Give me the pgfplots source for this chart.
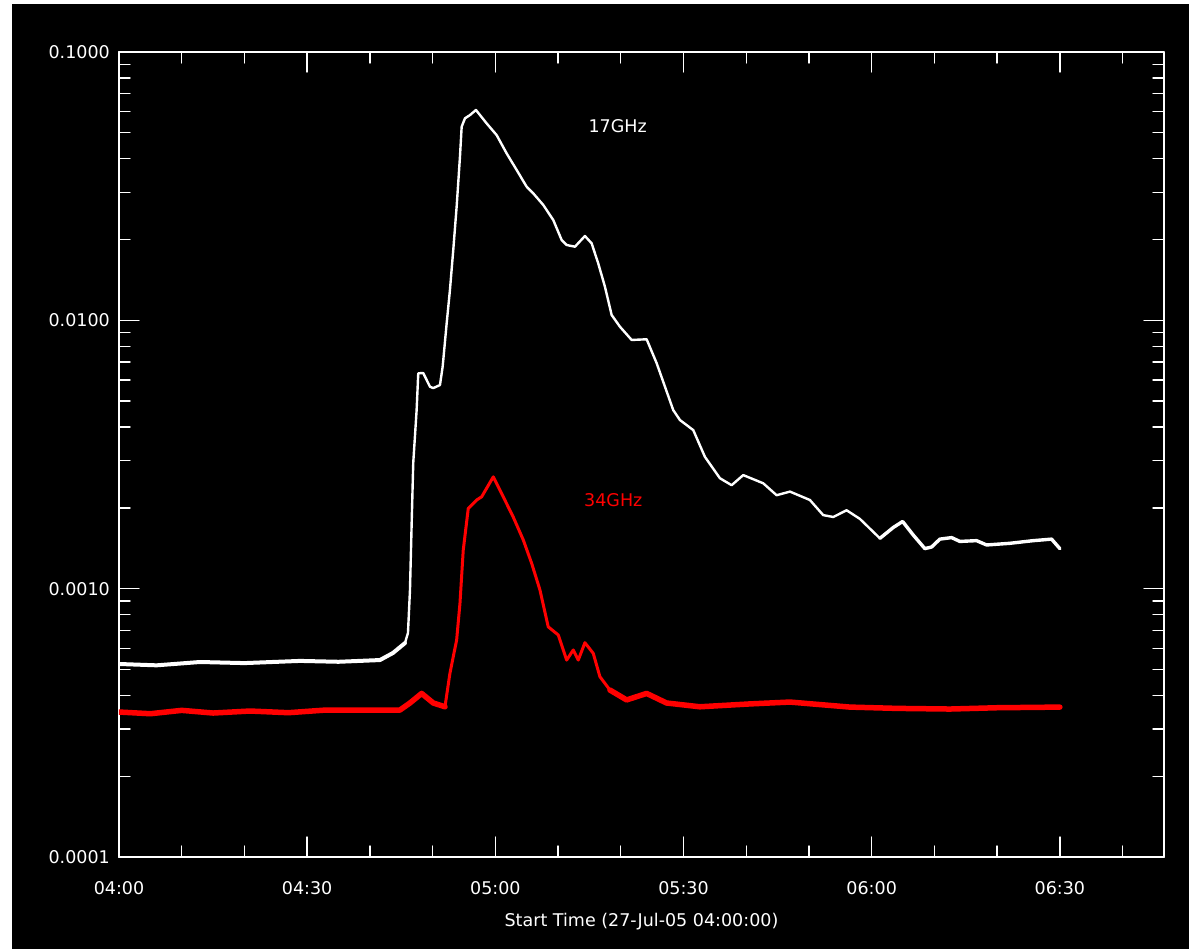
\documentclass[border=0pt]{standalone}
\usepackage{pgfplots}
\pgfplotsset{compat=1.18}
\usepackage{fontspec}
\setmainfont{DejaVu Sans}
\begin{document}
\begin{tikzpicture}
\path[use as bounding box] (-119pt,-92pt) rectangle (1070pt,857pt);
\fill[white] (-119pt,-92pt) rectangle (1070pt,857pt);
\fill[black] (-107pt,-92pt) rectangle (1070pt,853pt);
\begin{axis}[
  at={(0pt,0pt)}, anchor=south west,
  scale only axis, width=1045pt, height=805pt,
  xmin=0, xmax=166.6, ymin=1e-4, ymax=0.1, ymode=log,
  axis line style={white, line width=1.6pt},
  every tick/.style={white, line width=1.4pt},
  major tick length=20pt, minor tick length=11pt,
  xtick={0,30,60,90,120,150},
  xticklabels={04:00,04:30,05:00,05:30,06:00,06:30},
  minor xtick={10,20,40,50,70,80,100,110,130,140,160},
  ytick={1e-4,1e-3,1e-2,1e-1},
  yticklabels={0.0001,0.0010,0.0100,0.1000},
  ticklabel style={font=\fontsize{17.5}{20}\selectfont, text=white},
  xticklabel style={inner sep=0pt, anchor=center, yshift=-31pt},
  yticklabel style={inner sep=0pt, anchor=east, xshift=-9pt},
  xlabel={Start Time (27-Jul-05 04:00:00)},
  xlabel style={at={(axis description cs:0.5,0)}, anchor=center, yshift=-65pt, inner sep=0pt, text=white, font=\fontsize{17.5}{20}\selectfont},
  line join=round, line cap=round,
]
% 17 GHz: quiet part (noisy, looks thicker)
\addplot[white, line width=4pt] coordinates {
(0,5.24e-4) (6,5.18e-4) (12.9,5.33e-4) (20,5.28e-4) (28.85,5.38e-4) (35,5.34e-4) (41.6,5.42e-4)
(43.68,5.76e-4) (45.59,6.27e-4)
};
% 17 GHz: burst
\addplot[white, line width=2.4pt] coordinates {
(45.59,6.27e-4) (46.07,6.84e-4) (46.39,9.89e-4) (46.66,1.757e-3) (46.91,2.94e-3)
(47.45,4.63e-3) (47.71,6.35e-3) (48.51,6.36e-3) (49.57,5.66e-3) (50.10,5.59e-3) (51.17,5.74e-3)
(51.60,6.72e-3) (52.24,9.75e-3) (52.76,0.01297) (53.29,0.01829) (53.83,0.02652) (54.36,0.04073)
(54.63,0.05267) (55.16,0.0566) (55.95,0.0582) (56.91,0.0608) (58.61,0.0542) (60.21,0.0490)
(61.80,0.0419) (63.40,0.03633) (64.99,0.03148) (66.04,0.02974) (67.64,0.02691) (69.23,0.02366)
(70.57,0.01993) (71.37,0.01909) (72.69,0.01881) (74.28,0.02062) (75.35,0.01937) (76.40,0.01631)
(77.47,0.01335) (78.54,0.01047) (79.86,9.47e-3) (81.73,8.45e-3) (84.12,8.50e-3) (85.72,6.92e-3)
(88.36,4.63e-3) (89.43,4.25e-3) (91.55,3.90e-3) (93.41,3.10e-3) (95.80,2.58e-3) (97.67,2.43e-3)
(99.52,2.65e-3) (102.71,2.47e-3) (104.84,2.23e-3) (106.97,2.30e-3) (110.15,2.14e-3) (112.27,1.88e-3)
(113.87,1.85e-3) (116.0,1.96e-3) (118.12,1.82e-3) (121.31,1.54e-3)
};
% 17 GHz: decay tail (noisier)
\addplot[white, line width=3.4pt] coordinates {
(121.31,1.54e-3) (123.43,1.69e-3) (124.93,1.78e-3)
(126.62,1.585e-3) (128.48,1.41e-3) (129.55,1.43e-3) (130.87,1.53e-3) (132.74,1.55e-3) (134.06,1.50e-3)
(136.72,1.51e-3) (138.32,1.455e-3) (142.03,1.476e-3) (145.75,1.51e-3) (148.68,1.53e-3) (150.0,1.41e-3)
};
% 34 GHz: quiet part before burst (noisy band)
\addplot[red, line width=5.5pt] coordinates {
(0,3.47e-4) (5,3.42e-4) (10,3.52e-4) (15,3.44e-4) (20.88,3.50e-4) (27,3.45e-4) (33,3.53e-4) (41.6,3.53e-4)
(44.79,3.53e-4) (46.39,3.75e-4) (48.25,4.07e-4) (50.10,3.75e-4) (51.97,3.63e-4)
};
% 34 GHz: burst
\addplot[red, line width=3pt] coordinates {
(51.97,3.63e-4) (52.76,4.84e-4)
(53.83,6.44e-4) (54.36,8.82e-4) (54.88,1.39e-3) (55.68,1.99e-3) (57.02,2.14e-3) (57.82,2.20e-3)
(59.67,2.61e-3) (61.26,2.20e-3) (62.85,1.85e-3) (64.45,1.52e-3) (65.79,1.243e-3) (67.11,9.89e-4)
(68.43,7.21e-4) (70.03,6.72e-4) (71.37,5.42e-4) (72.42,5.91e-4) (73.22,5.42e-4) (74.28,6.29e-4)
(75.61,5.74e-4) (76.67,4.70e-4) (78.27,4.19e-4)
};
% 34 GHz: quiet part after burst (noisy band)
\addplot[red, line width=5.5pt] coordinates {
(78.27,4.19e-4) (80.93,3.85e-4) (84.12,4.07e-4) (87.30,3.75e-4)
(92.61,3.63e-4) (100.58,3.72e-4) (106.96,3.78e-4) (116.53,3.62e-4) (124,3.58e-4) (132.47,3.56e-4)
(140,3.60e-4) (150,3.62e-4)
};
\node[text=white, font=\fontsize{17.5}{20}\selectfont] at (axis cs:79.5,0.053) {17GHz};
\node[text=red, font=\fontsize{17.5}{20}\selectfont] at (axis cs:78.8,0.00214) {34GHz};
\end{axis}
\end{tikzpicture}
\end{document}
